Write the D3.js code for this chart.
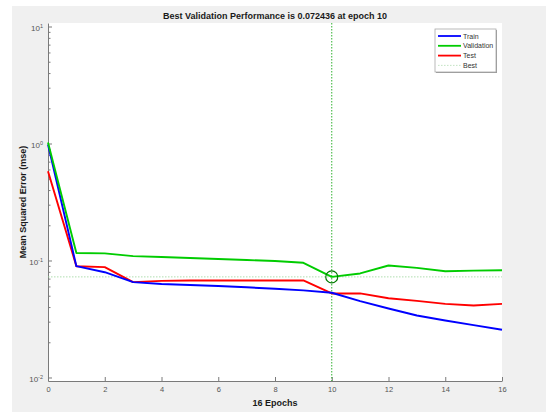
<!DOCTYPE html>
<html>
<head>
<meta charset="utf-8">
<script src="https://cdn.jsdelivr.net/npm/d3@7"></script>
<style>
  body { margin: 0; background: #fff; }
  svg { display: block; font-family: "Liberation Sans", Arial, sans-serif; }
</style>
</head>
<body>
<svg id="chart" width="546" height="412"></svg>
<script>
// training record
var epochs = [0, 1, 2, 3, 4, 5, 6, 7, 8, 9, 10, 11, 12, 13, 14, 15, 16];
var trainPerf = [0.98, 0.0894, 0.0794, 0.0653, 0.0629, 0.0617, 0.0605, 0.059, 0.0573, 0.0555, 0.053, 0.0449, 0.0389, 0.0339, 0.0307, 0.028, 0.0256];
var valPerf = [1.02, 0.116, 0.115, 0.109, 0.107, 0.105, 0.103, 0.101, 0.099, 0.0956, 0.072436, 0.0775, 0.0906, 0.0865, 0.081, 0.082, 0.0825];
var testPerf = [0.58, 0.0894, 0.0877, 0.0653, 0.067, 0.0675, 0.0675, 0.0675, 0.0675, 0.0675, 0.0523, 0.0523, 0.0476, 0.0452, 0.0426, 0.0412, 0.0426];
var bestEpoch = 10;
var bestPerf = 0.072436;
var xTicks = [0, 2, 4, 6, 8, 10, 12, 14, 16];
var yTicks = [0.01, 0.1, 1, 10];
var legendNames = ["Train", "Validation", "Test", "Best"];

var svg = d3.select("#chart");

// figure background
svg.append("rect")
    .attr("x", 12).attr("y", 6)
    .attr("width", 534).attr("height", 406)
    .attr("fill", "#f0f0f0");

var pLeft = 48, pRight = 502, pTop = 23, pBottom = 381;

svg.append("rect")
    .attr("x", pLeft).attr("y", pTop)
    .attr("width", pRight - pLeft).attr("height", pBottom - pTop)
    .attr("fill", "#fff");

var x = d3.scaleLinear().domain([0, 16]).range([pLeft, pRight]);
var y = d3.scaleLog().domain([Math.pow(10, -2.03), Math.pow(10, 1.03)]).range([pBottom, pTop]);

// minor ticks on y
var minor = [];
[0.01, 0.1, 1].forEach(function(d) {
    for (var k = 2; k <= 9; k++) minor.push(d * k);
});

var axisCol = "#7a7a7a";

svg.append("g")
    .attr("transform", "translate(" + pLeft + ",0)")
    .call(d3.axisLeft(y).tickValues(minor).tickSize(-2.5).tickFormat(""))
    .call(function(g) { g.select(".domain").remove(); })
    .selectAll("line").attr("stroke", axisCol);

var yAxis = svg.append("g")
    .attr("transform", "translate(" + pLeft + ",0)")
    .call(d3.axisLeft(y).tickValues(yTicks).tickSize(-4).tickSizeOuter(0).tickPadding(5).tickFormat(""));

yAxis.select(".domain").attr("stroke", axisCol);
yAxis.selectAll("line").attr("stroke", axisCol);
yAxis.selectAll(".tick text").each(function(d) {
    var t = d3.select(this);
    t.attr("font-size", 8).attr("fill", "#555").attr("font-family", "Liberation Sans, Arial, sans-serif")
        .attr("dy", "0.5em");
    t.append("tspan").text("10");
    t.append("tspan").attr("dy", "-0.5em").attr("font-size", 5.5).text(Math.round(Math.log10(d)));
});

var xAxis = svg.append("g")
    .attr("transform", "translate(0," + pBottom + ")")
    .call(d3.axisBottom(x).tickValues(xTicks).tickSize(-4).tickSizeOuter(0).tickPadding(6));

xAxis.select(".domain").attr("stroke", axisCol);
xAxis.selectAll("line").attr("stroke", axisCol);
xAxis.selectAll("text")
    .attr("font-size", 7.5)
    .attr("fill", "#555")
    .attr("font-family", "Liberation Sans, Arial, sans-serif");

// best markers
svg.append("line")
    .attr("x1", x(bestEpoch)).attr("x2", x(bestEpoch))
    .attr("y1", pTop).attr("y2", pBottom)
    .attr("stroke", "#1aa81a").attr("stroke-width", 0.9)
    .attr("stroke-dasharray", "1.5,1.5");

svg.append("line")
    .attr("x1", x(0)).attr("x2", x(16))
    .attr("y1", y(bestPerf)).attr("y2", y(bestPerf))
    .attr("stroke", "#9bd49b").attr("stroke-width", 0.8)
    .attr("stroke-dasharray", "1.5,1.5");

var line = d3.line()
    .x(function(d, i) { return x(epochs[i]); })
    .y(function(d) { return y(d); });

var series = [
    { values: testPerf, color: "#ff0000" },
    { values: trainPerf, color: "#0000ff" },
    { values: valPerf, color: "#00cc00" }
];

series.forEach(function(s) {
    svg.append("path")
        .datum(s.values)
        .attr("d", line)
        .attr("fill", "none")
        .attr("stroke", s.color)
        .attr("stroke-width", 1.9)
        .attr("stroke-linejoin", "round");
});

svg.append("circle")
    .attr("cx", x(bestEpoch)).attr("cy", y(bestPerf))
    .attr("r", 6)
    .attr("fill", "none")
    .attr("stroke", "#007a00")
    .attr("stroke-width", 1.2);

// title and labels
svg.append("text")
    .attr("x", (pLeft + pRight) / 2).attr("y", 19)
    .attr("text-anchor", "middle")
    .attr("font-size", 9).attr("font-weight", "bold").attr("fill", "#1a1a1a")
    .text("Best Validation Performance is 0.072436 at epoch " + bestEpoch);

svg.append("text")
    .attr("x", (pLeft + pRight) / 2).attr("y", 406)
    .attr("text-anchor", "middle")
    .attr("font-size", 9).attr("font-weight", "bold").attr("fill", "#1a1a1a")
    .text(epochs.length - 1 + " Epochs");

svg.append("text")
    .attr("transform", "translate(26," + ((pTop + pBottom) / 2) + ") rotate(-90)")
    .attr("text-anchor", "middle")
    .attr("font-size", 9).attr("font-weight", "bold").attr("fill", "#1a1a1a")
    .text("Mean Squared Error  (mse)");

// legend
var lg = svg.append("g").attr("transform", "translate(435,29)");
lg.append("rect")
    .attr("x", 1).attr("y", 1).attr("width", 61).attr("height", 43)
    .attr("fill", "#9a9a9a");
lg.append("rect")
    .attr("width", 61).attr("height", 43)
    .attr("fill", "#fff").attr("stroke", "#a8a8a8").attr("stroke-width", 0.8);

var legendStyles = [
    { color: "#0000ff", width: 1.8, dash: null },
    { color: "#00cc00", width: 1.8, dash: null },
    { color: "#ff0000", width: 1.8, dash: null },
    { color: "#b5dcb5", width: 0.8, dash: "1.5,1.5" }
];

legendNames.forEach(function(name, i) {
    var yy = 7 + i * 9.8;
    lg.append("line")
        .attr("x1", 3).attr("x2", 26)
        .attr("y1", yy).attr("y2", yy)
        .attr("stroke", legendStyles[i].color)
        .attr("stroke-width", legendStyles[i].width)
        .attr("stroke-dasharray", legendStyles[i].dash);
    lg.append("text")
        .attr("x", 28).attr("y", yy + 2.5)
        .attr("font-size", 7).attr("fill", "#333")
        .text(name);
});
</script>
</body>
</html>
